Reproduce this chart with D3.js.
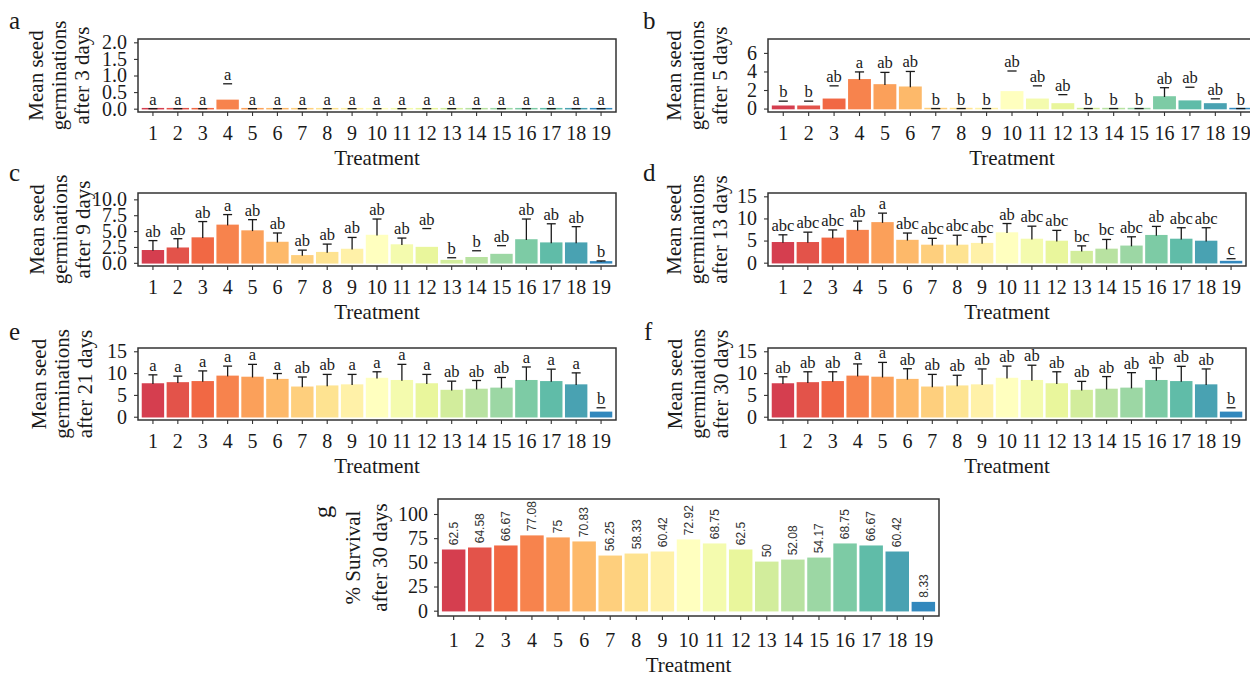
<!DOCTYPE html>
<html>
<head>
<meta charset="utf-8">
<script src="https://cdn.jsdelivr.net/npm/d3@7"></script>
<style>
  body { margin: 0; background: #fff; }
  svg { display: block; }
</style>
</head>
<body>
<svg id="fig" width="1250" height="676"></svg>
<script>
// ---------------------------------------------------------------------------
// Data: 19 treatments, mean seed germination (± SE upper bound) per census day,
// compact-letter groupings, and % survival after 30 days.
// ---------------------------------------------------------------------------
const treatments = d3.range(1, 20).map(String);

const day3Mean    = [0, 0, 0, 0.25, 0, 0, 0, 0, 0, 0, 0, 0, 0, 0, 0, 0, 0, 0, 0];
const day3Upper   = [0, 0, 0, 0.75, 0, 0, 0, 0, 0, 0, 0, 0, 0, 0, 0, 0, 0, 0, 0];
const day3Letters = ["a", "a", "a", "a", "a", "a", "a", "a", "a", "a", "a", "a", "a", "a", "a", "a", "a", "a", "a"];

const day5Mean    = [0.25, 0.25, 1.0, 3.1, 2.55, 2.3, 0, 0, 0, 1.8, 1.0, 0.5, 0, 0, 0, 1.25, 0.8, 0.5, 0];
const day5Upper   = [0.8, 0.8, 2.45, 3.95, 3.9, 4.0, 0, 0, 0, 4.05, 2.45, 1.5, 0, 0, 0, 2.25, 2.3, 1.05, 0];
const day5Letters = ["b", "b", "ab", "a", "ab", "ab", "b", "b", "b", "ab", "ab", "ab", "b", "b", "b", "ab", "ab", "ab", "b"];

const day9Mean    = [1.9, 2.3, 3.9, 5.9, 5.0, 3.2, 1.1, 1.6, 2.1, 4.3, 2.8, 2.4, 0.35, 0.8, 1.3, 3.6, 3.1, 3.1, 0.15];
const day9Upper   = [3.5, 3.8, 6.5, 7.6, 6.8, 4.7, 2.0, 2.95, 4.0, 6.9, 3.9, 5.4, 0.8, 1.9, 2.7, 6.9, 6.15, 5.7, 0.3];
const day9Letters = ["ab", "ab", "ab", "a", "ab", "ab", "ab", "ab", "ab", "ab", "ab", "ab", "b", "b", "ab", "ab", "ab", "ab", "b"];

const day13Mean    = [4.5, 4.5, 5.5, 7.25, 9.0, 5.0, 3.9, 3.9, 4.3, 6.7, 5.25, 4.8, 2.5, 3.0, 3.7, 6.1, 5.25, 4.8, 0.25];
const day13Upper   = [6.3, 6.9, 7.4, 9.4, 11.2, 6.7, 5.5, 6.2, 5.9, 8.85, 8.25, 7.3, 3.8, 5.25, 5.85, 8.2, 7.9, 7.9, 0.9];
const day13Letters = ["abc", "abc", "abc", "ab", "a", "abc", "abc", "abc", "abc", "ab", "abc", "abc", "bc", "bc", "abc", "ab", "abc", "abc", "c"];

const day21Mean    = [7.5, 7.75, 8, 9.25, 9, 8.5, 6.75, 7, 7.25, 8.75, 8.25, 7.5, 6, 6.25, 6.5, 8.25, 8, 7.25, 1];
const day21Upper   = [9.6, 9.3, 10.5, 11.6, 12.0, 9.9, 9.1, 9.7, 9.7, 10.3, 12.0, 9.7, 8.15, 8.3, 9.0, 11.4, 10.9, 10.05, 2.05];
const day21Letters = ["a", "a", "a", "a", "a", "a", "ab", "ab", "a", "a", "a", "a", "ab", "ab", "ab", "a", "a", "a", "b"];

const day30Mean    = [7.5, 7.75, 8, 9.25, 9, 8.5, 6.75, 7, 7.25, 8.75, 8.25, 7.5, 6, 6.25, 6.5, 8.25, 8, 7.25, 1];
const day30Upper   = [9.15, 10.3, 10.3, 12.1, 12.45, 11.0, 9.7, 9.5, 10.95, 11.6, 11.8, 10.3, 8.1, 9.2, 10.1, 11.2, 11.55, 10.95, 2.05];
const day30Letters = ["ab", "ab", "ab", "a", "a", "ab", "ab", "ab", "ab", "ab", "ab", "ab", "ab", "ab", "ab", "ab", "ab", "ab", "b"];

const survival30 = [62.5, 64.58, 66.67, 77.08, 75, 70.83, 56.25, 58.33, 60.42, 72.92, 68.75, 62.5, 50, 52.08, 54.17, 68.75, 66.67, 60.42, 8.33];

const ticksA = [0, 0.5, 1, 1.5, 2];
const ticksB = [0, 2, 4, 6];
const ticksC = [0, 2.5, 5, 7.5, 10];
const ticks15 = [0, 5, 10, 15];
const ticksSurvival = [0, 25, 50, 75, 100];

// ---------------------------------------------------------------------------
// Styling
// ---------------------------------------------------------------------------
const SERIF = '"Liberation Serif", "Times New Roman", Times, serif';
const SANS = '"Liberation Sans", Arial, Helvetica, sans-serif';
const INK = "#1a1a1a";
const FRAME = "#333333";

const spectral = d3.piecewise(d3.interpolateRgb,
  ["#D53E4F", "#F46D43", "#FDAE61", "#FEE08B", "#FFFFBF", "#E6F598", "#ABDDA4", "#66C2A5", "#3288BD"]);
const color = d3.scaleOrdinal()
  .domain(treatments)
  .range(treatments.map((_, i) => spectral(i / (treatments.length - 1))));

const svg = d3.select("#fig");
svg.append("rect").attr("width", 1250).attr("height", 676).attr("fill", "#fff");

// ---------------------------------------------------------------------------
// Panel layout
// ---------------------------------------------------------------------------
const germPanels = [
  { tag: "a", mean: day3Mean,  upper: day3Upper,  letters: day3Letters,  days: 3,
    left: 138, right: 616,  top: 39,  bottom: 112, domain: [-0.1, 2.1],   ticks: ticksA, fmt: ".1f",
    titleX: 37, tagX: 9, tagY: 29 },
  { tag: "b", mean: day5Mean,  upper: day5Upper,  letters: day5Letters,  days: 5,
    left: 768, right: 1256, top: 39,  bottom: 112, domain: [-0.37, 7.5],  ticks: ticksB, fmt: "d",
    titleX: 675, tagX: 643, tagY: 29 },
  { tag: "c", mean: day9Mean,  upper: day9Upper,  letters: day9Letters,  days: 9,
    left: 138, right: 616,  top: 193, bottom: 266, domain: [-0.5, 11.0],  ticks: ticksC, fmt: ".1f",
    titleX: 38, tagX: 9, tagY: 181 },
  { tag: "d", mean: day13Mean, upper: day13Upper, letters: day13Letters, days: 13,
    left: 768, right: 1246, top: 193, bottom: 266, domain: [-0.75, 15.75], ticks: ticks15, fmt: "d",
    titleX: 675, tagX: 643, tagY: 181 },
  { tag: "e", mean: day21Mean, upper: day21Upper, letters: day21Letters, days: 21,
    left: 138, right: 616,  top: 348, bottom: 420, domain: [-0.75, 15.75], ticks: ticks15, fmt: "d",
    titleX: 40, tagX: 9, tagY: 340 },
  { tag: "f", mean: day30Mean, upper: day30Upper, letters: day30Letters, days: 30,
    left: 768, right: 1246, top: 348, bottom: 420, domain: [-0.75, 15.75], ticks: ticks15, fmt: "d",
    titleX: 676, tagX: 644, tagY: 340 }
];

function styleAxis(axisG, size) {
  axisG.select(".domain").remove();
  axisG.selectAll(".tick line").attr("stroke", FRAME).attr("stroke-width", 1.1);
  axisG.selectAll(".tick text")
    .attr("font-family", SERIF).attr("font-size", size).attr("fill", INK);
}

function bandScale(p) {
  return d3.scaleBand().domain(treatments).range([p.left, p.right])
    .paddingInner(0.1).paddingOuter(0.15);
}

function drawBars(g, x, y, values) {
  g.append("g").selectAll("rect").data(values).join("rect")
    .attr("x", (d, i) => x(treatments[i]))
    .attr("width", x.bandwidth())
    .attr("y", d => y(d) - 0.75)
    .attr("height", d => y(0) - y(d) + 1.5)
    .attr("fill", (d, i) => color(treatments[i]));
}

function drawFrame(g, p, x, y, ticks, fmt, opts) {
  g.append("rect")
    .attr("x", p.left).attr("y", p.top)
    .attr("width", p.right - p.left).attr("height", p.bottom - p.top)
    .attr("fill", "none").attr("stroke", FRAME).attr("stroke-width", 1.5);

  const ya = g.append("g").attr("transform", `translate(${p.left},0)`)
    .call(d3.axisLeft(y).tickValues(ticks).tickFormat(d3.format(fmt)).tickSize(4).tickPadding(opts.yPad));
  styleAxis(ya, opts.tickSize);

  const xa = g.append("g").attr("transform", `translate(0,${p.bottom})`)
    .call(d3.axisBottom(x).tickSize(4).tickPadding(opts.xPad));
  styleAxis(xa, opts.tickSize);

  g.append("text")
    .attr("x", (p.left + p.right) / 2).attr("y", p.bottom + opts.xTitleOffset)
    .attr("text-anchor", "middle")
    .attr("font-family", SERIF).attr("font-size", opts.titleSize).attr("fill", INK)
    .text("Treatment");
}

function drawYTitle(g, lines, x0, gap, cy, size) {
  lines.forEach((t, k) => {
    g.append("text")
      .attr("transform", `translate(${x0 + k * gap},${cy}) rotate(-90)`)
      .attr("text-anchor", "middle").attr("dy", "0.3em")
      .attr("font-family", SERIF).attr("font-size", size).attr("fill", INK)
      .text(t);
  });
}

// Germination panels a–f
germPanels.forEach(p => {
  const g = svg.append("g");
  const x = bandScale(p);
  const y = d3.scaleLinear().domain(p.domain).range([p.bottom, p.top]);
  const cx = i => x(treatments[i]) + x.bandwidth() / 2;
  const capHalf = x.bandwidth() * 0.2;

  drawBars(g, x, y, p.mean);

  // Error bars: the stem is only kept where mean − SE stays at or above zero
  const eb = g.append("g").attr("stroke", INK).attr("stroke-width", 1.3);
  p.upper.forEach((u, i) => {
    const m = p.mean[i];
    const se = u - m;
    if (m - se >= -1e-9 && se > 0) {
      eb.append("line").attr("x1", cx(i)).attr("x2", cx(i)).attr("y1", y(m)).attr("y2", y(u));
    }
    eb.append("line").attr("x1", cx(i) - capHalf).attr("x2", cx(i) + capHalf).attr("y1", y(u)).attr("y2", y(u));
  });

  // Compact-letter display above each error bar
  g.append("g").selectAll("text").data(p.letters).join("text")
    .attr("x", (d, i) => cx(i))
    .attr("y", (d, i) => y(p.upper[i]) - 4)
    .attr("text-anchor", "middle")
    .attr("font-family", SERIF).attr("font-size", 16.5).attr("fill", INK)
    .text(d => d);

  drawFrame(g, p, x, y, p.ticks, p.fmt,
    { yPad: 7, xPad: 10, tickSize: 20, titleSize: 21, xTitleOffset: 53 });

  drawYTitle(g, ["Mean seed", "germinations", `after ${p.days} days`],
    p.titleX, 23, (p.top + p.bottom) / 2, 21);

  g.append("text")
    .attr("x", p.tagX).attr("y", p.tagY)
    .attr("font-family", SERIF).attr("font-size", 25).attr("fill", INK)
    .text(p.tag);
});

// Panel g: % survival after 30 days
(function () {
  const p = { left: 438, right: 939, top: 499, bottom: 616 };
  const g = svg.append("g");
  const x = bandScale(p);
  const y = d3.scaleLinear().domain([-5.5, 115.5]).range([p.bottom, p.top]);
  const cx = i => x(treatments[i]) + x.bandwidth() / 2;

  drawBars(g, x, y, survival30);

  g.append("g").selectAll("text").data(survival30).join("text")
    .attr("transform", (d, i) => `translate(${cx(i)},${y(d) - 5}) rotate(-90)`)
    .attr("text-anchor", "start").attr("dy", "0.35em")
    .attr("font-family", SANS).attr("font-size", 12).attr("fill", "#333")
    .text(d => String(d));

  drawFrame(g, p, x, y, ticksSurvival, "d",
    { yPad: 6, xPad: 13, tickSize: 20, titleSize: 21, xTitleOffset: 56 });

  drawYTitle(g, ["% Survival", "after 30 days"], 354, 27, (p.top + p.bottom) / 2, 21);

  g.append("text")
    .attr("transform", "translate(323,512) rotate(-90)")
    .attr("text-anchor", "middle").attr("dy", "0.3em")
    .attr("font-family", SERIF).attr("font-size", 25).attr("fill", INK)
    .text("g");
})();
</script>
</body>
</html>
